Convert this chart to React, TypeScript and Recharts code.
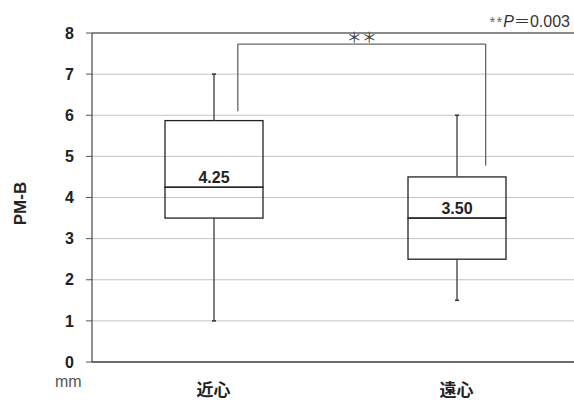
import { Bar, CartesianGrid, ComposedChart, Label, LabelList, ReferenceLine, XAxis, YAxis } from "recharts";

const categories = ["近心", "遠心"];
const positions = [1, 2];
const mins = [1, 1.5];
const q1s = [3.5, 2.5];
const medians = [4.25, 3.5];
const q3s = [5.87, 4.5];
const maxs = [7, 6];
const yTicks = [0, 1, 2, 3, 4, 5, 6, 7, 8];

// significance bracket, its feet sit a bit right of each box centre
const bracketX = [1.1, 2.12];
const bracketFoot = [6.1, 4.77];
const bracketTop = 7.73;
const pValue = "0.003";

const data = categories.map((name, i) => ({
  name,
  pos: positions[i],
  base: mins[i],
  lowWhisker: q1s[i] - mins[i],
  lowBox: medians[i] - q1s[i],
  highBox: q3s[i] - medians[i],
  highWhisker: maxs[i] - q3s[i],
  median: medians[i],
}));

const jp = '"Noto Sans CJK JP", "Noto Sans", sans-serif';
const arial = '"Liberation Sans", Arial, sans-serif';

const Whisker = (capAtTop: boolean) => (props: any) => {
  const { x, y, width, height } = props;
  const cx = x + width / 2;
  const capY = capAtTop ? y : y + height;
  return (
    <g>
      <line x1={cx} x2={cx} y1={y} y2={y + height} stroke="#555" strokeWidth={1.5} />
      <line x1={cx - 2} x2={cx + 2} y1={capY} y2={capY} stroke="#333" strokeWidth={1.5} />
    </g>
  );
};

const BoxPart = (props: any) => {
  const { x, y, width, height } = props;
  return <rect x={x} y={y} width={width} height={height} fill="none" stroke="#222" strokeWidth={1.3} />;
};

const YTitle = (props: any) => {
  const vb = props.viewBox;
  const x = vb.x + 20;
  const y = vb.y + vb.height / 2 + 6;
  return (
    <text x={x} y={y} transform={`rotate(-90, ${x}, ${y})`} textAnchor="middle" dominantBaseline="central"
      fontFamily={arial} fontWeight="bold" fontSize={17} fill="#222">
      PM-B
    </text>
  );
};

export default function App() {
  return (
    <div style={{ position: "absolute", left: 0, top: 0, width: 574, height: 417, background: "#fff", overflow: "hidden" }}>
      <ComposedChart width={578} height={417} data={data} margin={{ top: 33, right: 0, left: 0, bottom: 0 }}>
        <CartesianGrid vertical={false} stroke="#c4c4c4" />
        <XAxis
          dataKey="pos"
          type="number"
          domain={[0.5, 2.5]}
          ticks={positions}
          tickFormatter={(v) => categories[positions.indexOf(v)]}
          height={55}
          tickLine={false}
          tickSize={0}
          tickMargin={22}
          axisLine={{ stroke: "#444", strokeWidth: 1.5 }}
          tick={{ fontFamily: jp, fontWeight: "bold", fontSize: 17, fill: "#222" }}
          allowDataOverflow
        />
        <YAxis
          domain={[0, 8]}
          ticks={yTicks}
          width={92}
          tickSize={6}
          tickMargin={12}
          axisLine={{ stroke: "#222" }}
          tickLine={{ stroke: "#555" }}
          tick={{ fontFamily: arial, fontWeight: "bold", fontSize: 16, fill: "#222" }}
        >
          <Label content={YTitle} />
        </YAxis>
        <ReferenceLine y={8} stroke="#333" />
        <Bar dataKey="base" stackId="box" barSize={98} fill="none" isAnimationActive={false} />
        <Bar dataKey="lowWhisker" stackId="box" barSize={98} shape={Whisker(false)} isAnimationActive={false} />
        <Bar dataKey="lowBox" stackId="box" barSize={98} shape={BoxPart} isAnimationActive={false}>
          <LabelList
            dataKey="median"
            position="top"
            offset={4}
            formatter={(v: any) => Number(v).toFixed(2)}
            style={{ fontFamily: arial, fontWeight: "bold", fontSize: 16, fill: "#222" }}
          />
        </Bar>
        <Bar dataKey="highBox" stackId="box" barSize={98} shape={BoxPart} isAnimationActive={false} />
        <Bar dataKey="highWhisker" stackId="box" barSize={98} shape={Whisker(true)} isAnimationActive={false} />
        <ReferenceLine
          segment={[{ x: bracketX[0], y: bracketFoot[0] }, { x: bracketX[0], y: bracketTop }]}
          stroke="#666"
          strokeWidth={1.3}
        />
        <ReferenceLine
          segment={[{ x: bracketX[1], y: bracketFoot[1] }, { x: bracketX[1], y: bracketTop }]}
          stroke="#666"
          strokeWidth={1.3}
        />
        <ReferenceLine
          segment={[{ x: bracketX[0], y: bracketTop }, { x: bracketX[1], y: bracketTop }]}
          stroke="#666"
          strokeWidth={1.3}
          label={{ value: "＊＊", position: "top", offset: 1, fill: "#444", fontSize: 15, fontFamily: jp }}
        />
      </ComposedChart>
      <div style={{ position: "absolute", left: 55, top: 374, fontFamily: arial, fontSize: 16, color: "#555", lineHeight: "16px" }}>
        mm
      </div>
      <div style={{ position: "absolute", right: 4, top: 12, fontFamily: arial, fontSize: 16, color: "#333", lineHeight: "16px", whiteSpace: "nowrap" }}>
        <span style={{ fontSize: 15, color: "#666", letterSpacing: 1 }}>**</span>
        <i>P</i>
        <span style={{ fontFamily: jp, fontSize: 16 }}>＝</span>
        {pValue}
      </div>
    </div>
  );
}
